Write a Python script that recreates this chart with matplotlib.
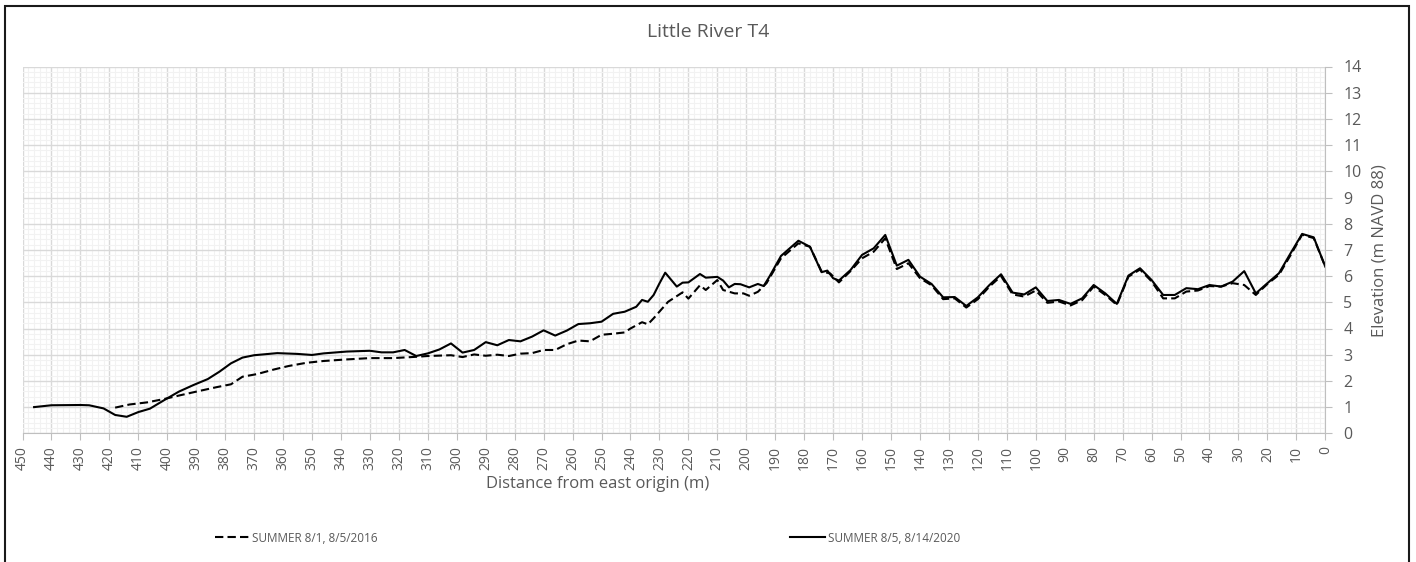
import matplotlib
matplotlib.use('Agg')
import matplotlib.pyplot as plt
from matplotlib.patches import Rectangle
from matplotlib.ticker import MultipleLocator

plt.rcParams['font.family'] = ['Open Sans', 'DejaVu Sans']

# survey 2020 (solid)
dist_2020 = [446, 440, 430, 427, 422, 418, 414, 410, 406, 401, 396, 391, 386, 382,
             378, 374, 370, 362, 355, 350, 346, 338, 330, 326, 322, 318, 314, 310,
             306, 302, 298, 294, 290, 286, 282, 278, 274, 270, 266, 262, 258, 254,
             250, 246, 242, 238, 236, 234, 232, 230, 228, 224, 222, 220, 216, 214,
             210, 208, 206, 204, 202, 199, 196, 194, 192, 188, 185, 182, 178, 174,
             172, 170, 168, 164, 160, 156, 152, 148, 144, 140, 136, 132, 128, 124,
             120, 116, 112, 108, 104, 100, 96, 92, 88, 84, 80, 76, 72, 68, 64, 60,
             56, 52, 48, 44, 40, 36, 32, 28, 24, 20, 16, 12, 8, 4, 0]
elev_2020 = [1.00, 1.07, 1.08, 1.07, 0.95, 0.70, 0.63, 0.81, 0.94, 1.27, 1.59, 1.84,
             2.07, 2.35, 2.67, 2.89, 2.98, 3.06, 3.03, 2.99, 3.05, 3.12, 3.15, 3.09,
             3.09, 3.18, 2.95, 3.05, 3.20, 3.43, 3.08, 3.18, 3.48, 3.36, 3.56, 3.51,
             3.69, 3.93, 3.73, 3.92, 4.17, 4.20, 4.26, 4.56, 4.64, 4.83, 5.09, 5.02,
             5.28, 5.72, 6.13, 5.60, 5.75, 5.76, 6.08, 5.94, 5.97, 5.83, 5.57, 5.70,
             5.69, 5.57, 5.70, 5.62, 5.98, 6.77, 7.06, 7.35, 7.12, 6.15, 6.21, 5.92,
             5.83, 6.23, 6.81, 7.06, 7.57, 6.40, 6.62, 5.98, 5.70, 5.19, 5.20, 4.86,
             5.19, 5.66, 6.07, 5.37, 5.30, 5.57, 5.05, 5.09, 4.94, 5.15, 5.66, 5.34,
             4.94, 6.02, 6.30, 5.85, 5.28, 5.28, 5.54, 5.50, 5.66, 5.60, 5.79, 6.19,
             5.34, 5.73, 6.11, 6.87, 7.61, 7.48, 6.36]

# survey 2016 (dashed)
dist_2016 = [418, 413, 407, 401, 396, 390, 383, 378, 374, 369, 363, 358, 352, 346,
             338, 330, 322, 314, 310, 302, 298, 294, 290, 286, 282, 278, 274, 270,
             266, 262, 258, 254, 250, 246, 242, 240, 236, 234, 232, 227, 222, 220,
             216, 214, 210, 208, 204, 201, 199, 196, 193, 188, 182, 178, 174, 171,
             168, 164, 160, 156, 152, 148, 144, 140, 136, 132, 128, 124, 120, 116,
             112, 108, 104, 100, 96, 92, 88, 84, 80, 76, 72, 68, 64, 60, 56, 52, 48,
             44, 40, 36, 32, 28, 24, 20, 16, 12, 8, 4, 0]
elev_2016 = [0.98, 1.10, 1.18, 1.31, 1.44, 1.59, 1.76, 1.87, 2.16, 2.26, 2.44, 2.57,
             2.69, 2.76, 2.82, 2.87, 2.87, 2.92, 2.95, 2.98, 2.91, 3.01, 2.96, 3.00,
             2.95, 3.04, 3.06, 3.18, 3.18, 3.40, 3.54, 3.51, 3.76, 3.80, 3.85, 4.00,
             4.24, 4.16, 4.39, 5.02, 5.38, 5.14, 5.65, 5.47, 5.85, 5.47, 5.34, 5.34,
             5.25, 5.40, 5.73, 6.68, 7.25, 7.12, 6.18, 6.10, 5.76, 6.19, 6.68, 6.93,
             7.44, 6.27, 6.49, 5.92, 5.65, 5.12, 5.15, 4.80, 5.12, 5.60, 6.00, 5.30,
             5.22, 5.45, 4.98, 5.03, 4.88, 5.08, 5.60, 5.28, 4.90, 5.98, 6.25, 5.80,
             5.15, 5.15, 5.41, 5.45, 5.62, 5.60, 5.73, 5.66, 5.28, 5.70, 6.05, 6.80,
             7.58, 7.45, 6.36]

txt = '#595959'
W, H = 1416, 562

fig = plt.figure(figsize=(W / 100, H / 100), dpi=100)
ax = fig.add_axes([22.5 / W, 1 - 433.3 / H, (1325.3 - 22.5) / W, (433.3 - 66.5) / H])

h16, = ax.plot(dist_2016, elev_2016, color='black', lw=1.5, ls=(0, (4, 2)),
               label='SUMMER 8/1, 8/5/2016')
h20, = ax.plot(dist_2020, elev_2020, color='black', lw=1.5,
               label='SUMMER 8/5, 8/14/2020')

ax.set_xlim(450, 0)
ax.set_ylim(0, 14)
ax.xaxis.set_major_locator(MultipleLocator(10))
ax.xaxis.set_minor_locator(MultipleLocator(2))
ax.yaxis.set_major_locator(MultipleLocator(1))
ax.yaxis.set_minor_locator(MultipleLocator(0.2))
ax.grid(which='minor', color='#f2f2f2', lw=0.8)
ax.grid(which='major', color='#d9d9d9', lw=1.0)
ax.set_axisbelow(True)

ax.yaxis.tick_right()
for s in ['top', 'left']:
    ax.spines[s].set_visible(False)
for s in ['bottom', 'right']:
    ax.spines[s].set_color('#bfbfbf')
ax.tick_params(which='minor', length=0)
ax.tick_params(axis='x', which='major', length=5, color='#bfbfbf', labelcolor=txt,
               labelsize=10, rotation=90, pad=4.5)
ax.tick_params(axis='y', which='major', length=5, color='#bfbfbf', labelcolor=txt,
               labelsize=11.5, pad=8)

fig.text(708 / W, 1 - 32 / H, 'Little River T4', ha='center', va='center',
         fontsize=14, color=txt)
fig.text(598 / W, 1 - 484 / H, 'Distance from east origin (m)', ha='center',
         va='center', fontsize=12, color=txt)
fig.text(1379 / W, 1 - 251 / H, 'Elevation (m NAVD 88)', ha='center', va='center',
         rotation=90, fontsize=12, color=txt)

# two legend entries placed apart, as in the original
for h, x0 in [(h16, 215), (h20, 790)]:
    leg = fig.legend(handles=[h], loc='center left',
                     bbox_to_anchor=((x0 - 5) / W, 1 - 538 / H), frameon=False,
                     fontsize=8.5, handlelength=3.0, handletextpad=0.2,
                     borderaxespad=0)
    for t in leg.get_texts():
        t.set_color(txt)

fig.add_artist(Rectangle((5 / W, -0.1), (1409 - 5) / W, 1.1 - 6 / H,
                         transform=fig.transFigure, fill=False, ec='#1a1a1a',
                         lw=1.5, clip_on=False))

fig.savefig('out.png', dpi=100)
